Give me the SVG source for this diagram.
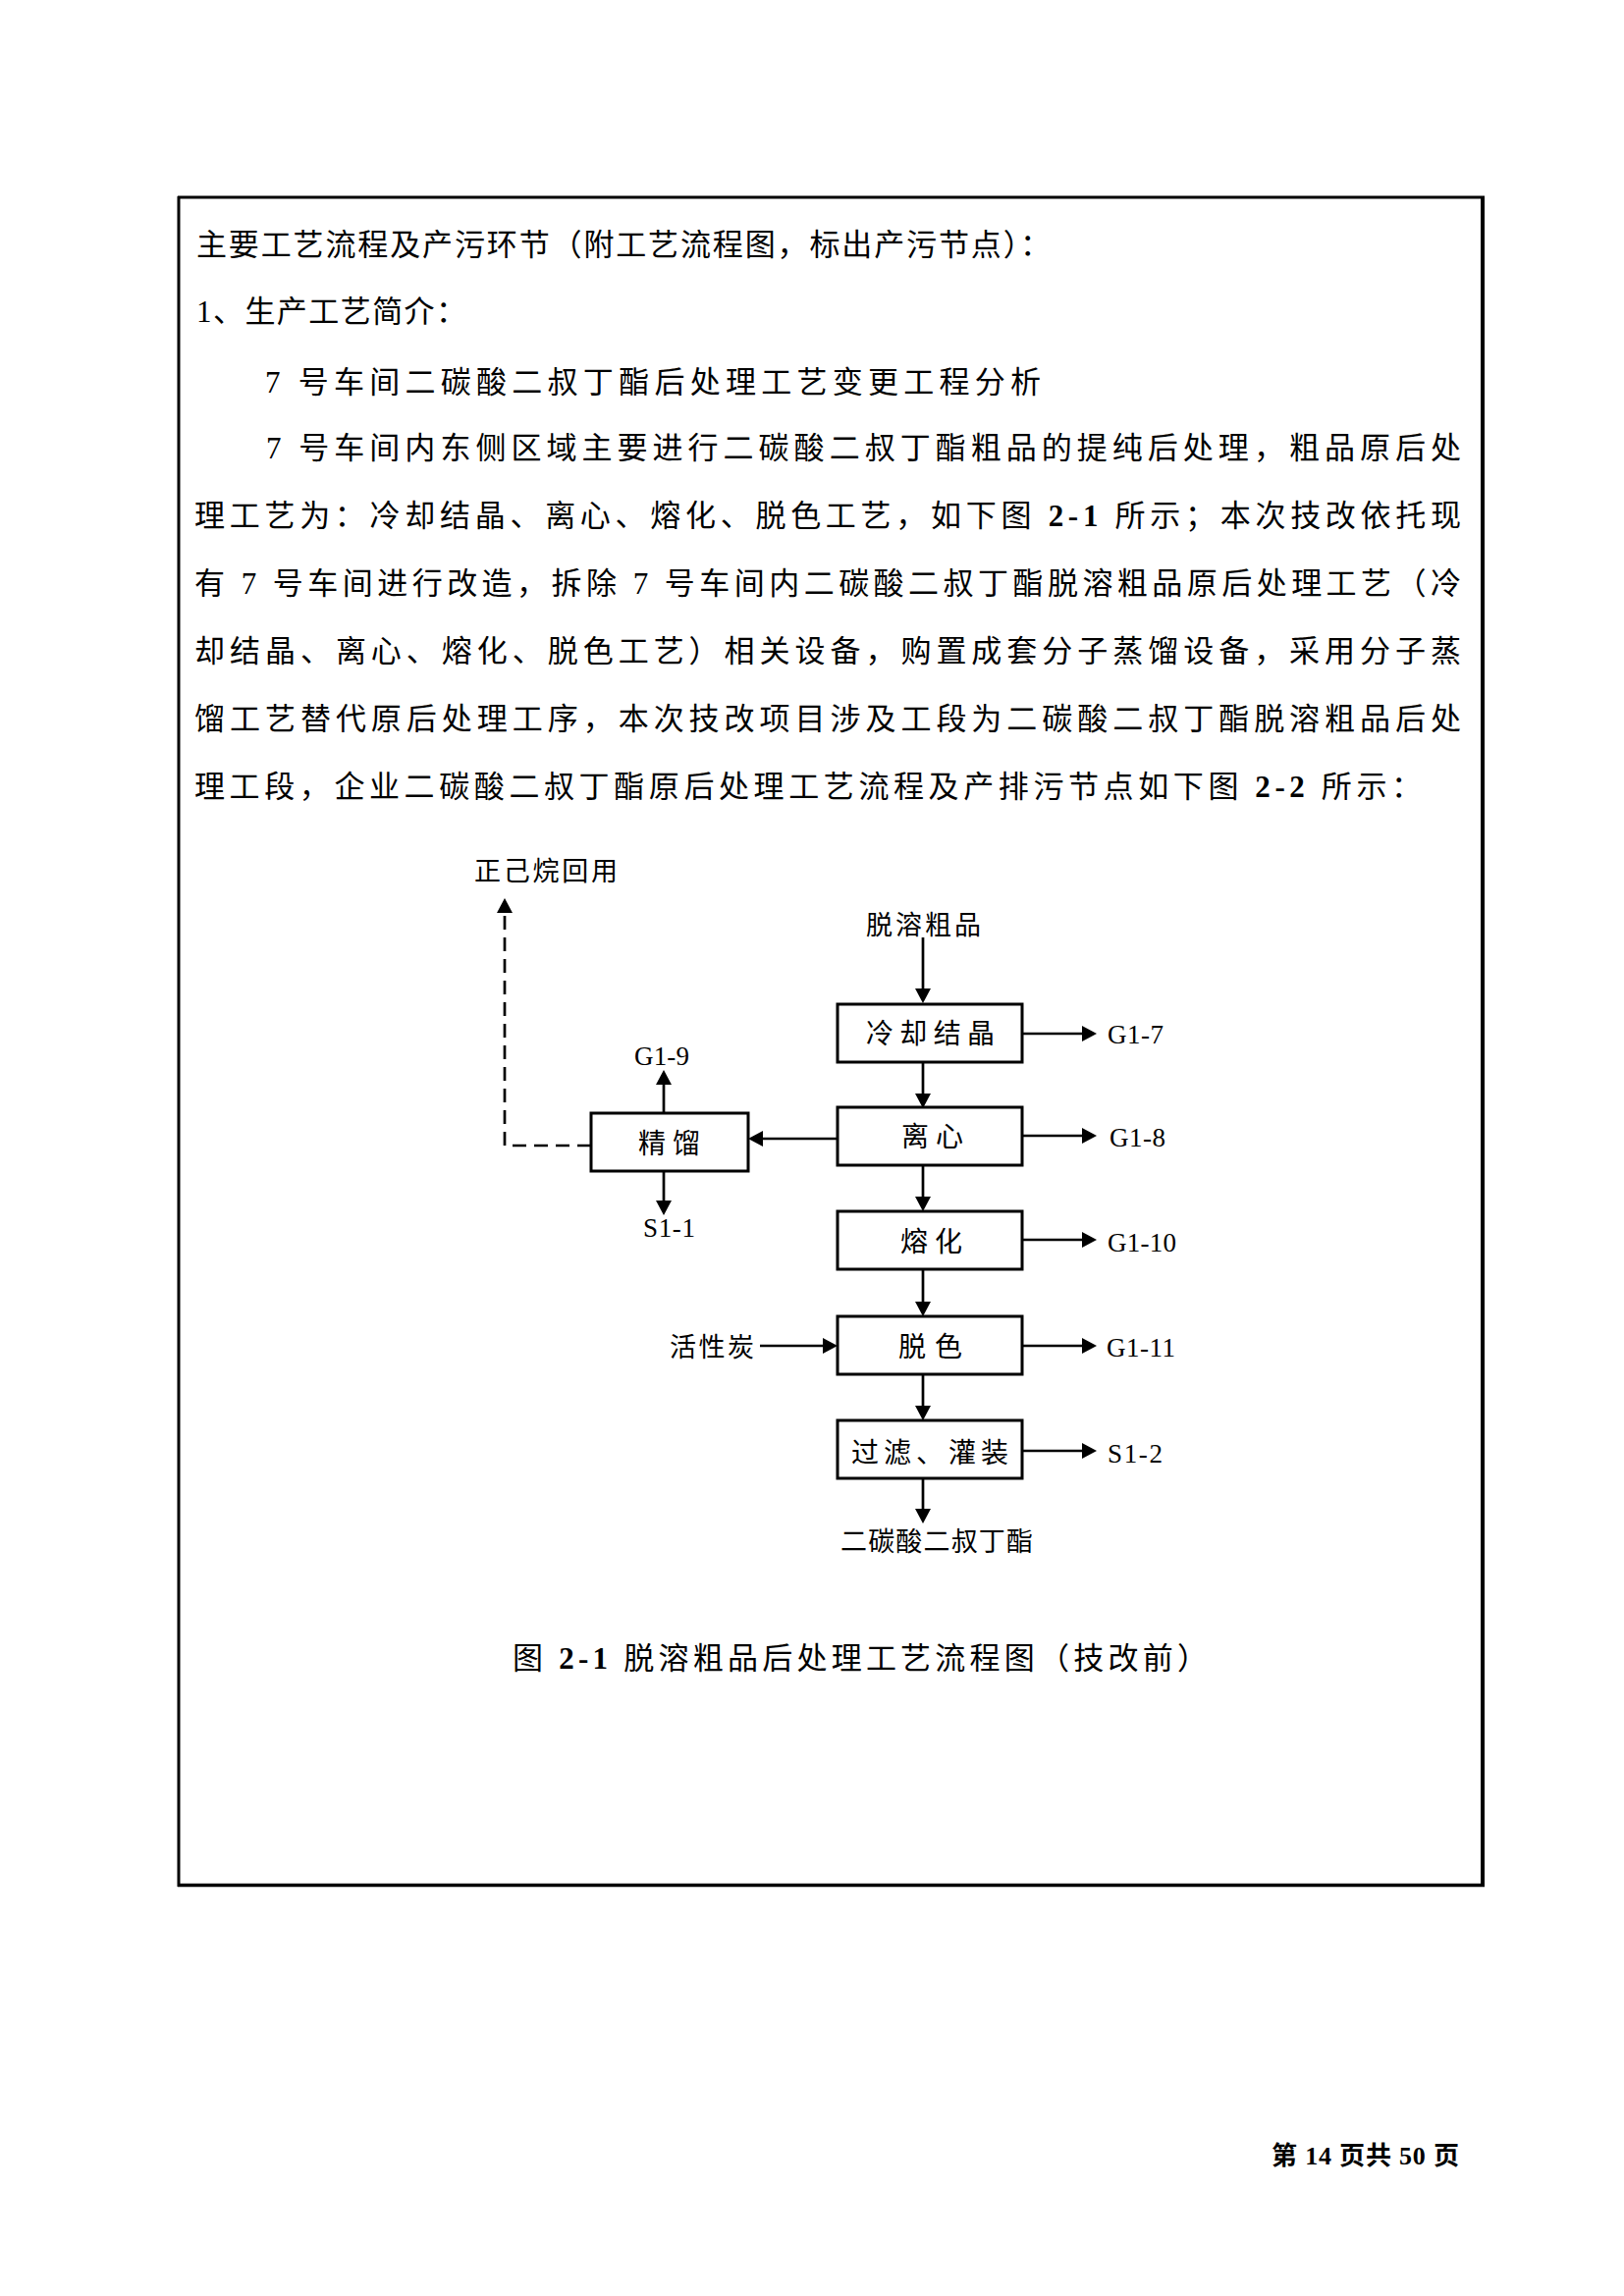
<svg xmlns="http://www.w3.org/2000/svg" width="1654" height="2339" viewBox="0 0 1654 2339">
<style>
text{font-family:"Liberation Serif","Noto Sans CJK SC",serif;fill:#000}
.body{font-size:31px}
.lbl{font-size:28px}
.sm{font-size:27px}
.code{font-size:27px;font-family:"Liberation Serif",serif}
.b{font-weight:bold}
.box{fill:#fff;stroke:#000;stroke-width:3}
.ln{fill:none;stroke:#000;stroke-width:2.7}
.dash{fill:none;stroke:#000;stroke-width:2.7;stroke-dasharray:14 8}
.frame{stroke:#000}
</style>
<defs>
<marker id="ah" viewBox="0 0 15 16" markerWidth="15" markerHeight="16" refX="3" refY="8" orient="auto" markerUnits="userSpaceOnUse">
<path d="M0,0 L15,8 L0,16 Z" fill="#000"/>
</marker>
</defs>
<rect width="1654" height="2339" fill="#fff"/>

<g id="page-frame">
<line class="frame" x1="181" y1="201" x2="1512" y2="201" stroke-width="3"/>
<line class="frame" x1="182" y1="200" x2="182" y2="1922" stroke-width="3"/>
<line class="frame" x1="1510" y1="200" x2="1510" y2="1922" stroke-width="4"/>
<line class="frame" x1="181" y1="1920.5" x2="1512" y2="1920.5" stroke-width="3.5"/>
</g>

<g id="body-text">
<text class="body" x="200" y="260" textLength="870" lengthAdjust="spacing">主要工艺流程及产污环节（附工艺流程图，标出产污节点）：</text>
<text class="body" x="200" y="328" textLength="275" lengthAdjust="spacing">1、生产工艺简介：</text>
<text class="body" x="270" y="400" textLength="790" lengthAdjust="spacing">7 号车间二碳酸二叔丁酯后处理工艺变更工程分析</text>
<text class="body" x="271" y="467" textLength="1217" lengthAdjust="spacing">7 号车间内东侧区域主要进行二碳酸二叔丁酯粗品的提纯后处理，粗品原后处</text>
<text class="body" x="198" y="536" textLength="1290" lengthAdjust="spacing">理工艺为：冷却结晶、离心、熔化、脱色工艺，如下图 <tspan class="b">2-1</tspan> 所示；本次技改依托现</text>
<text class="body" x="198" y="605" textLength="1290" lengthAdjust="spacing">有 7 号车间进行改造，拆除 7 号车间内二碳酸二叔丁酯脱溶粗品原后处理工艺（冷</text>
<text class="body" x="198" y="674" textLength="1290" lengthAdjust="spacing">却结晶、离心、熔化、脱色工艺）相关设备，购置成套分子蒸馏设备，采用分子蒸</text>
<text class="body" x="198" y="743" textLength="1290" lengthAdjust="spacing">馏工艺替代原后处理工序，本次技改项目涉及工段为二碳酸二叔丁酯脱溶粗品后处</text>
<text class="body" x="198" y="812" textLength="1250" lengthAdjust="spacing">理工段，企业二碳酸二叔丁酯原后处理工艺流程及产排污节点如下图 <tspan class="b">2-2</tspan> 所示：</text>
</g>

<g id="connectors">
<line class="ln" x1="940" y1="955" x2="940" y2="1010" marker-end="url(#ah)"/>
<line class="ln" x1="940" y1="1082" x2="940" y2="1117" marker-end="url(#ah)"/>
<line class="ln" x1="940" y1="1187" x2="940" y2="1222" marker-end="url(#ah)"/>
<line class="ln" x1="940" y1="1293" x2="940" y2="1329" marker-end="url(#ah)"/>
<line class="ln" x1="940" y1="1400" x2="940" y2="1435" marker-end="url(#ah)"/>
<line class="ln" x1="940" y1="1506" x2="940" y2="1540" marker-end="url(#ah)"/>
<line class="ln" x1="1041" y1="1053" x2="1105" y2="1053" marker-end="url(#ah)"/>
<line class="ln" x1="1041" y1="1157" x2="1105" y2="1157" marker-end="url(#ah)"/>
<line class="ln" x1="1041" y1="1263" x2="1105" y2="1263" marker-end="url(#ah)"/>
<line class="ln" x1="1041" y1="1371" x2="1105" y2="1371" marker-end="url(#ah)"/>
<line class="ln" x1="1041" y1="1478" x2="1105" y2="1478" marker-end="url(#ah)"/>
<line class="ln" x1="774" y1="1371" x2="841" y2="1371" marker-end="url(#ah)"/>
<line class="ln" x1="853" y1="1160" x2="774" y2="1160" marker-end="url(#ah)"/>
<line class="ln" x1="676" y1="1134" x2="676" y2="1102" marker-end="url(#ah)"/>
<line class="ln" x1="676" y1="1193" x2="676" y2="1226" marker-end="url(#ah)"/>
<polyline class="dash" points="602,1167 514,1167 514,927" marker-end="url(#ah)"/>
</g>

<g id="node-tuorong-input">
<text class="sm" x="882" y="952" textLength="117" lengthAdjust="spacing">脱溶粗品</text>
</g>
<g id="node-lengque">
<rect class="box" x="853" y="1023" width="188" height="59"/>
<text class="lbl" x="882" y="1063" textLength="131" lengthAdjust="spacing">冷却结晶</text>
</g>
<g id="node-lixin">
<rect class="box" x="853" y="1128" width="188" height="59"/>
<text class="lbl" x="918" y="1168" textLength="63" lengthAdjust="spacing">离心</text>
</g>
<g id="node-ronghua">
<rect class="box" x="853" y="1234" width="188" height="59"/>
<text class="lbl" x="917" y="1275" textLength="63" lengthAdjust="spacing">熔化</text>
</g>
<g id="node-tuose">
<rect class="box" x="853" y="1341" width="188" height="59"/>
<text class="lbl" x="915" y="1382" textLength="65" lengthAdjust="spacing">脱色</text>
</g>
<g id="node-guolv">
<rect class="box" x="853" y="1447" width="188" height="59"/>
<text class="lbl" x="867" y="1490" textLength="160" lengthAdjust="spacing">过滤、灌装</text>
</g>
<g id="node-jingliu">
<rect class="box" x="602" y="1134" width="160" height="59"/>
<text class="lbl" x="650" y="1175" textLength="63" lengthAdjust="spacing">精馏</text>
</g>
<g id="node-zhengjiwan">
<text class="sm" x="483" y="897" textLength="146" lengthAdjust="spacing">正己烷回用</text>
</g>
<g id="node-huoxingtan">
<text class="sm" x="682" y="1382" textLength="86" lengthAdjust="spacing">活性炭</text>
</g>
<g id="node-product">
<text class="sm" x="856" y="1580" textLength="196" lengthAdjust="spacing">二碳酸二叔丁酯</text>
</g>
<g id="node-G1-7"><text class="code" x="1128" y="1063" textLength="57" lengthAdjust="spacing">G1-7</text></g>
<g id="node-G1-8"><text class="code" x="1130" y="1168" textLength="57" lengthAdjust="spacing">G1-8</text></g>
<g id="node-G1-10"><text class="code" x="1128" y="1275" textLength="70" lengthAdjust="spacing">G1-10</text></g>
<g id="node-G1-11"><text class="code" x="1127" y="1382" textLength="70" lengthAdjust="spacing">G1-11</text></g>
<g id="node-S1-2"><text class="code" x="1128" y="1490" textLength="56" lengthAdjust="spacing">S1-2</text></g>
<g id="node-G1-9"><text class="code" x="646" y="1085" textLength="56" lengthAdjust="spacing">G1-9</text></g>
<g id="node-S1-1"><text class="code" x="655" y="1260" textLength="53" lengthAdjust="spacing">S1-1</text></g>

<g id="caption">
<text class="body" x="522" y="1700" textLength="708" lengthAdjust="spacing">图 <tspan class="b">2-1</tspan> 脱溶粗品后处理工艺流程图（技改前）</text>
</g>
<g id="footer">
<text class="b" x="1295" y="2205" font-size="26" textLength="191" lengthAdjust="spacing">第 14 页共 50 页</text>
</g>
</svg>
